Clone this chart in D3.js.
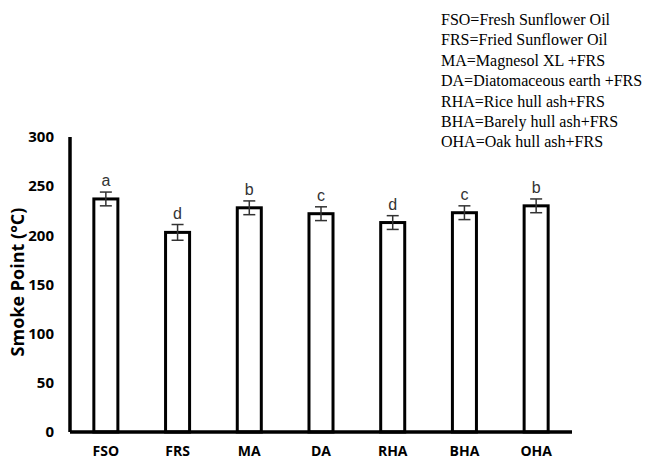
<!DOCTYPE html>
<html>
<head>
<meta charset="utf-8">
<script src="https://cdn.jsdelivr.net/npm/d3@7"></script>
<style>
  body { margin: 0; background: #fff; }
</style>
</head>
<body>
<svg id="svg"></svg>
<script>
const width = 646, height = 461;

const categories = ["FSO", "FRS", "MA", "DA", "RHA", "BHA", "OHA"];
const values = [237, 203, 228, 222, 213, 223, 230];
const errors = [7, 8, 7, 7, 7, 7, 7];
const letters = ["a", "d", "b", "c", "d", "c", "b"];
const yTicks = [0, 50, 100, 150, 200, 250, 300];
const legendLines = [
    "FSO=Fresh Sunflower Oil",
    "FRS=Fried Sunflower Oil",
    "MA=Magnesol XL +FRS",
    "DA=Diatomaceous earth +FRS",
    "RHA=Rice hull ash+FRS",
    "BHA=Barely hull ash+FRS",
    "OHA=Oak hull ash+FRS"
];

const margin = { left: 70, right: 74, top: 137, bottom: 29 };

const svg = d3.select("#svg")
    .attr("width", width)
    .attr("height", height);

const x = d3.scaleBand()
    .domain(categories)
    .range([margin.left, width - margin.right])
    .paddingInner(0.665)
    .paddingOuter(0.3325);

const y = d3.scaleLinear()
    .domain([0, 300])
    .range([height - margin.bottom, margin.top]);

const data = categories.map((c, i) => ({ c: c, v: values[i], e: errors[i], l: letters[i] }));

// bars
svg.selectAll("rect.bar")
    .data(data)
    .enter()
    .append("rect")
    .attr("class", "bar")
    .attr("x", d => x(d.c))
    .attr("y", d => y(d.v))
    .attr("width", x.bandwidth())
    .attr("height", d => y(0) - y(d.v))
    .style("fill", "#fff")
    .style("stroke", "#000")
    .style("stroke-width", 3);

// error bars
const err = svg.selectAll("g.err")
    .data(data)
    .enter()
    .append("g")
    .attr("class", "err")
    .style("stroke", "#333")
    .style("stroke-width", 1.5);

err.append("line")
    .attr("x1", d => x(d.c) + x.bandwidth() / 2)
    .attr("x2", d => x(d.c) + x.bandwidth() / 2)
    .attr("y1", d => y(d.v + d.e))
    .attr("y2", d => y(d.v - d.e));

[1, -1].forEach(s => {
    err.append("line")
        .attr("x1", d => x(d.c) + x.bandwidth() / 2 - 6)
        .attr("x2", d => x(d.c) + x.bandwidth() / 2 + 6)
        .attr("y1", d => y(d.v + s * d.e))
        .attr("y2", d => y(d.v + s * d.e));
});

// significance letters
svg.selectAll("text.sig")
    .data(data)
    .enter()
    .append("text")
    .attr("class", "sig")
    .attr("x", d => x(d.c) + x.bandwidth() / 2)
    .attr("y", d => y(d.v + d.e) - 6)
    .attr("text-anchor", "middle")
    .style("font-family", "'Liberation Sans', Arial, sans-serif")
    .style("font-size", "16px")
    .style("fill", "#333")
    .text(d => d.l);

// axes
const yAxis = svg.append("g")
    .attr("transform", `translate(${margin.left},0)`)
    .call(d3.axisLeft(y).tickValues(yTicks).tickSize(0).tickPadding(16));

const xAxis = svg.append("g")
    .attr("transform", `translate(0,${y(0)})`)
    .call(d3.axisBottom(x).tickSize(0).tickPadding(14));

[yAxis, xAxis].forEach(a => {
    a.select(".domain").style("stroke", "#000").style("stroke-width", 3.5);
    a.selectAll("text")
        .style("font-family", "'Open Sans', 'Liberation Sans', sans-serif")
        .style("font-weight", "bold")
        .style("font-size", "14px")
        .style("fill", "#000");
});
yAxis.selectAll("text").style("font-size", "15px");
xAxis.select(".domain").attr("d", `M${margin.left},0H${width - margin.right}`);
yAxis.select(".domain").attr("d", `M0,${margin.top}V${y(0)}`);

// y label
svg.append("text")
    .attr("transform", "translate(24,282) rotate(-90)")
    .attr("text-anchor", "middle")
    .style("font-family", "'Open Sans', 'Liberation Sans', sans-serif")
    .style("font-weight", "bold")
    .style("font-size", "18px")
    .text("Smoke Point (°C)");

// legend
svg.append("g")
    .selectAll("text")
    .data(legendLines)
    .enter()
    .append("text")
    .attr("x", 441)
    .attr("y", (d, i) => 25 + i * 20.4)
    .style("font-family", "'Liberation Serif', 'Times New Roman', serif")
    .style("font-size", "16px")
    .style("fill", "#000")
    .text(d => d);
</script>
</body>
</html>
